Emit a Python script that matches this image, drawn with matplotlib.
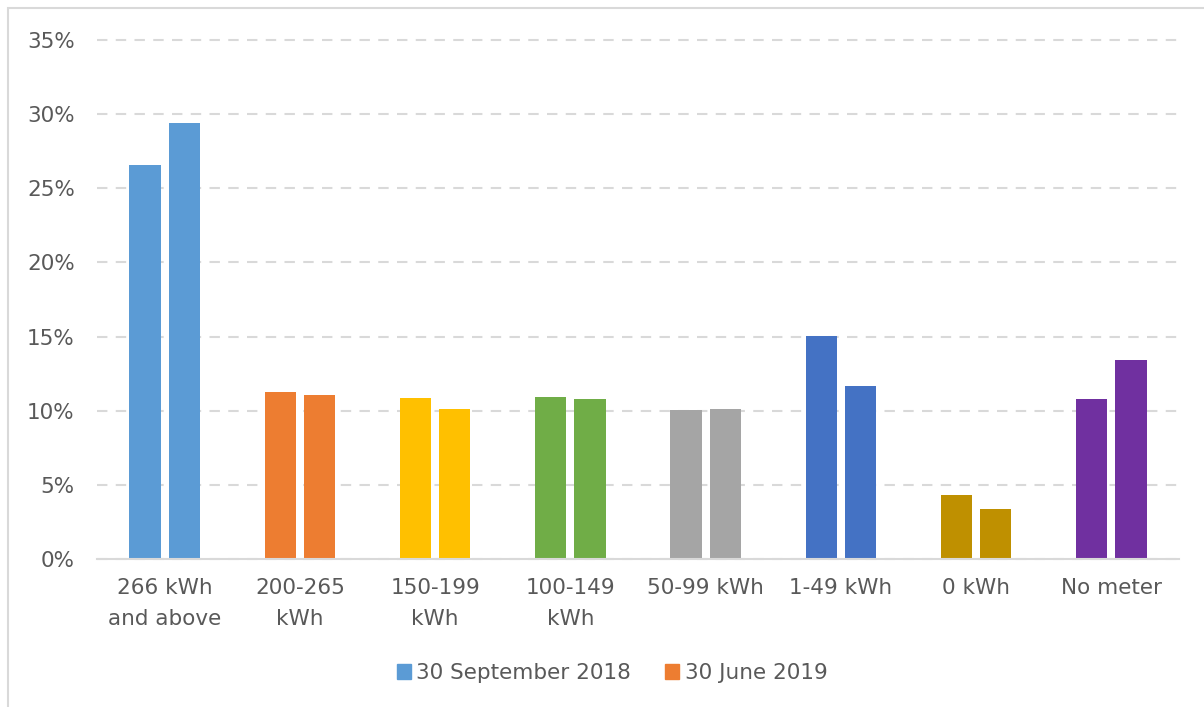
import matplotlib
matplotlib.use("Agg")
import matplotlib.pyplot as plt
import numpy as np
from matplotlib.patches import Rectangle, Patch
from matplotlib.ticker import FuncFormatter

categories = ["266 kWh\nand above", "200-265\nkWh", "150-199\nkWh", "100-149\nkWh",
              "50-99 kWh", "1-49 kWh", "0 kWh", "No meter"]
series_names = ["30 September 2018", "30 June 2019"]
sep_2018 = [26.56, 11.27, 10.83, 10.90, 10.02, 15.07, 4.30, 10.76]
jun_2019 = [29.38, 11.08, 10.09, 10.76, 10.09, 11.64, 3.36, 13.39]
bar_colors = ["#5B9BD5", "#ED7D31", "#FFC000", "#70AD47", "#A5A5A5", "#4472C4", "#BF9000", "#7030A0"]
yticks = [0, 5, 10, 15, 20, 25, 30, 35]

plt.rcParams['font.family'] = ['DejaVu Sans']
text_color = "#595959"

fig = plt.figure(figsize=(12.04, 7.07), dpi=100)
ax = fig.add_axes([97/1204, 1-559/707, (1179-97)/1204, (559-40)/707])

x = np.arange(len(categories))
w = 0.23
off = 0.145
ax.bar(x - off, sep_2018, width=w, color=bar_colors, zorder=3)
ax.bar(x + off, jun_2019, width=w, color=bar_colors, zorder=3)

ax.set_xlim(-0.5, len(categories) - 0.5)
ax.set_ylim(0, 35)
ax.set_yticks(yticks)
ax.yaxis.set_major_formatter(FuncFormatter(lambda v, p: f"{v:.0f}%"))
ax.set_xticks(x)
ax.set_xticklabels(categories, linespacing=1.65)
ax.tick_params(axis='both', length=0, labelsize=15.5, colors=text_color)
ax.tick_params(axis='x', pad=14)
ax.tick_params(axis='y', pad=16)

ax.grid(axis='y', color="#D9D9D9", linestyle=(0, (5, 4)), linewidth=1.5, zorder=0)
for gl in ax.get_ygridlines():
    gl.set_clip_on(False)
for s in ["top", "right", "left"]:
    ax.spines[s].set_visible(False)
ax.spines["bottom"].set_color("#D9D9D9")
ax.spines["bottom"].set_linewidth(1.5)
ax.spines["bottom"].set_zorder(4)

# chart border
fig.patches.append(Rectangle((8/1204, -0.1), 1.2, 1 - 8/707 + 0.1, transform=fig.transFigure,
                             fill=False, edgecolor="#D9D9D9", linewidth=1.5))

handles = [Patch(color=bar_colors[0], label=series_names[0]),
           Patch(color=bar_colors[1], label=series_names[1])]
leg = fig.legend(handles=handles, loc="center", bbox_to_anchor=(612/1204, 1-673/707),
                 ncol=2, frameon=False, fontsize=15.5, handlelength=0.65, handleheight=0.65,
                 handletextpad=0.25, columnspacing=1.6)
for t in leg.get_texts():
    t.set_color(text_color)

fig.savefig("out.png", dpi=100)
